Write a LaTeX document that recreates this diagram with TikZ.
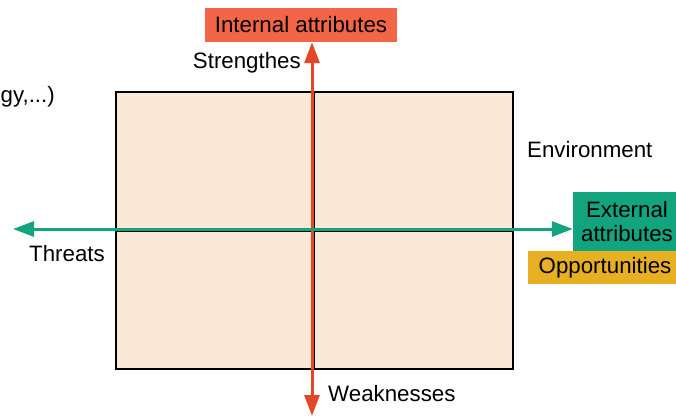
\documentclass[tikz,border=0pt]{standalone}
\usepackage{fontspec}
\setmainfont{Liberation Sans}
\usetikzlibrary{arrows.meta}
\definecolor{swotbg}{RGB}{249,233,214}
\definecolor{intred}{RGB}{242,101,70}
\definecolor{axred}{RGB}{226,71,40}
\definecolor{extgreen}{RGB}{17,164,127}
\definecolor{oppyellow}{RGB}{230,176,34}
\tikzset{
	label/.style={inner sep=0pt, font=\fontsize{22.3}{24.5}\selectfont},
	tagbox/.style={label, minimum height=34pt, text=black},
	axis/.style={line width=3pt, >={Triangle[length=21pt,width=15pt]}},
}
\begin{document}
\begin{tikzpicture}[x=1pt,y=-1pt]
		\useasboundingbox (0,0) rectangle (676,417);

		\draw[line width=1.8pt, fill=swotbg] (116,92) rectangle (513,369); % Draw the matrix
		\draw[line width=1.2pt] (314,92) -- (314,369); % Draw the vertical split
		\draw[line width=1.2pt] (116,231) -- (513,231); % Draw the horizontal split

		\node[tagbox, fill=intred, minimum width=192pt] (internal) at (301,25) {Internal attributes}; % Top tag
		\node[tagbox, fill=extgreen, minimum width=108pt, minimum height=59pt, align=center] (external) at (627,221.5) {External\\attributes}; % Right tag
		\node[tagbox, fill=oppyellow, minimum width=154pt, minimum height=33pt] (opp) at (605,267.5) {Opportunities}; % Yellow tag

		\node[label, anchor=west] (tech) at (0.5,97) {gy,...)};
		\node[label, anchor=east] (strengths) at (301,63) {Strengthes};
		\node[label, anchor=west] (environment) at (527,150) {Environment};
		\node[label, anchor=east] (threats) at (105,254) {Threats};
		\node[label, anchor=west] (weak) at (328,394) {Weaknesses};

		\coordinate (stip) at (312,416); % Bottom tip of the red axis
		\coordinate (wtip) at (13,229); % Left tip of the green axis

		\draw[axis, axred, <->] (stip) -- (stip |- internal.south); % Draw the internal axis
		\draw[axis, extgreen, <->] (wtip) -- (wtip -| external.west); % Draw the external axis
	\end{tikzpicture}
\end{document}
